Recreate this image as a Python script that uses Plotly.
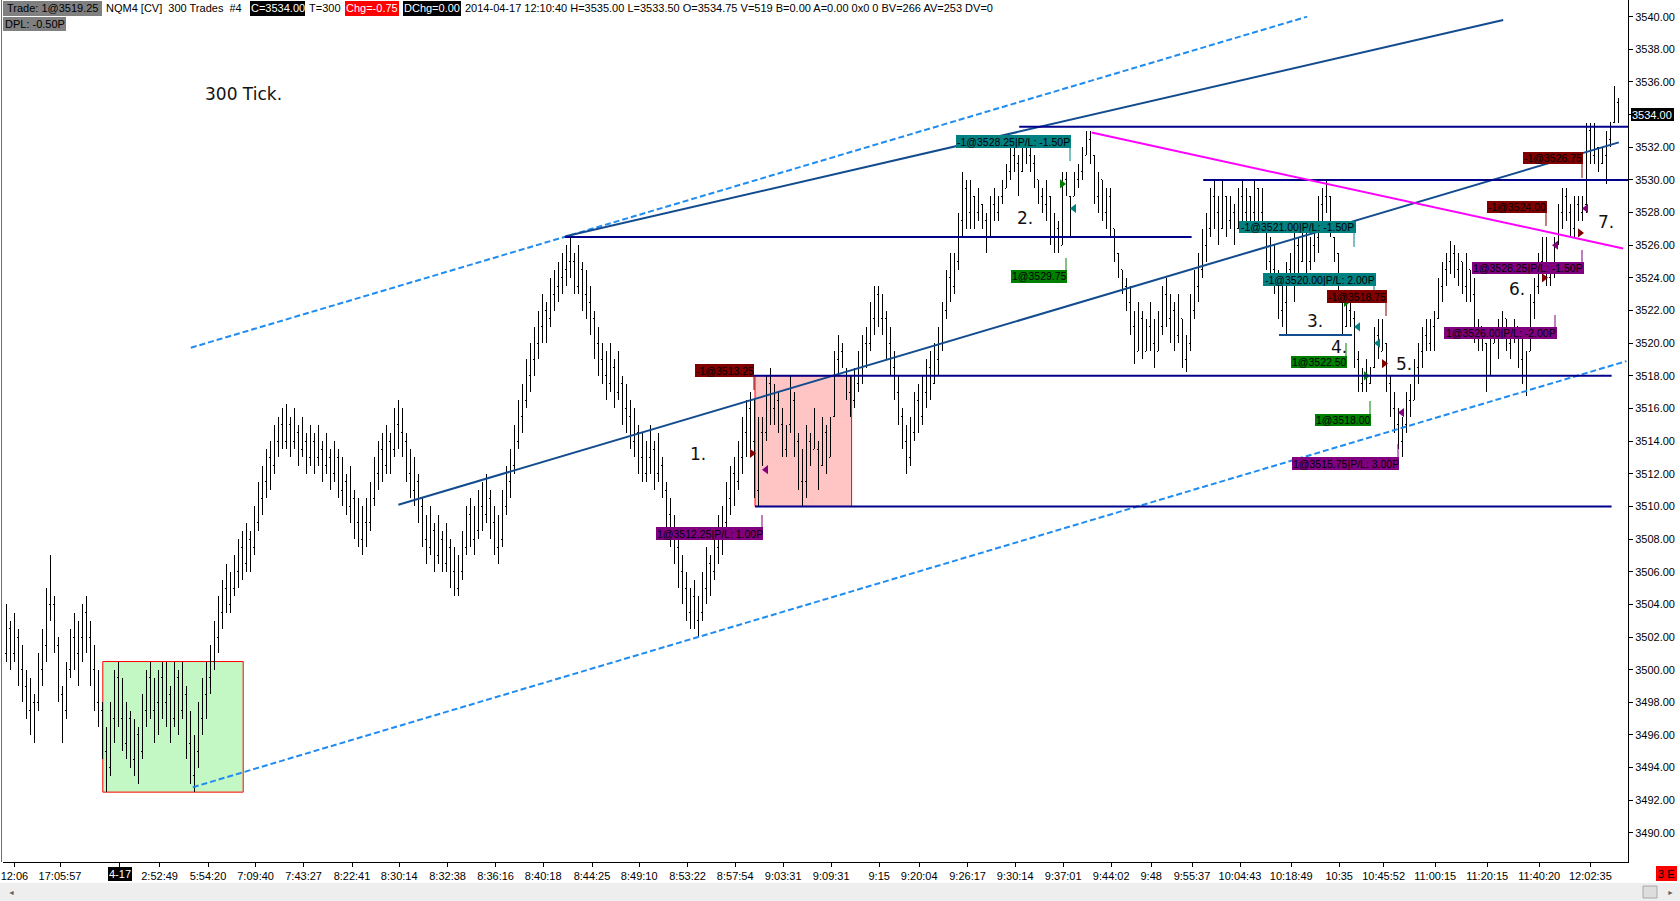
import plotly.graph_objects as go

# ---------------- DATA (300-tick OHLC bars, NQM4) ----------------
highs = [
3504.0, 3503.0, 3503.5, 3502.5, 3501.5, 3500.0, 3499.5, 3498.5, 3501.0, 3502.5,
3505.0, 3507.0, 3504.5, 3502.0, 3499.0, 3500.5, 3502.5, 3503.5, 3503.0, 3504.0,
3504.5, 3503.0, 3501.5, 3500.0, 3498.0, 3496.5, 3498.0, 3500.0, 3500.5, 3499.5,
3498.0, 3497.5, 3497.0, 3496.5, 3498.5, 3500.0, 3500.5, 3499.5, 3500.0, 3500.5,
3500.5, 3499.0, 3500.5, 3500.0, 3500.5, 3499.0, 3497.5, 3496.0, 3498.0, 3499.5,
3500.5, 3501.5, 3503.0, 3504.5, 3505.5, 3506.5, 3506.0, 3507.0, 3508.0, 3508.5,
3509.0, 3508.5, 3510.0, 3511.5, 3512.5, 3513.5, 3514.0, 3515.0, 3515.5, 3516.0,
3516.25, 3515.5, 3516.0, 3515.0, 3515.5, 3514.5, 3515.0, 3514.5, 3515.0, 3514.0,
3514.5, 3513.5, 3514.0, 3513.5, 3513.0, 3512.0, 3512.5, 3511.0, 3510.5, 3510.0,
3510.5, 3511.5, 3513.0, 3514.0, 3514.5, 3515.0, 3514.5, 3516.0, 3516.5, 3516.0,
3514.5, 3513.5, 3513.0, 3512.0, 3510.5, 3509.5, 3510.0, 3509.0, 3509.5, 3508.5,
3509.0, 3508.0, 3507.5, 3507.0, 3508.5, 3510.0, 3510.5, 3510.0, 3511.0, 3511.5,
3512.0, 3511.0, 3510.0, 3509.5, 3511.0, 3512.5, 3513.5, 3515.0, 3516.5, 3517.5,
3519.0, 3520.0, 3521.0, 3522.0, 3523.0, 3522.5, 3524.0, 3524.5, 3525.0, 3525.5,
3526.0, 3526.5, 3525.5, 3526.0, 3525.0, 3524.5, 3523.5, 3522.0, 3521.0, 3520.0,
3519.5, 3520.0, 3519.0, 3519.5, 3518.0, 3517.5, 3516.5, 3516.0, 3515.0, 3514.5,
3514.0, 3515.0, 3514.0, 3514.5, 3513.0, 3511.5, 3510.5, 3509.5, 3508.5, 3507.0,
3506.0, 3505.0, 3505.5, 3504.5, 3506.0, 3507.5, 3507.0, 3508.5, 3509.5, 3510.0,
3511.5, 3512.5, 3513.0, 3514.0, 3515.5, 3516.5, 3517.0, 3516.5, 3515.5, 3515.5,
3518.0, 3518.5, 3517.5, 3517.0, 3516.0, 3515.0, 3518.0, 3517.0, 3514.5, 3513.5,
3515.0, 3514.5, 3516.0, 3514.0, 3515.5, 3515.0, 3515.5, 3519.5, 3520.5, 3520.0,
3518.5, 3518.0, 3518.5, 3519.5, 3520.5, 3521.0, 3522.5, 3523.5, 3523.5, 3523.0,
3522.0, 3521.0, 3519.5, 3518.0, 3516.0, 3515.0, 3515.5, 3517.0, 3517.5, 3518.0,
3519.0, 3519.5, 3520.0, 3521.0, 3522.5, 3524.5, 3525.5, 3525.5, 3528.0, 3530.5,
3530.0, 3530.0, 3529.0, 3529.5, 3528.5, 3528.0, 3529.0, 3529.5, 3529.0, 3530.0,
3531.0, 3532.0, 3532.5, 3531.5, 3532.5, 3532.5, 3532.5, 3531.5, 3530.0, 3529.5,
3530.0, 3529.0, 3528.0, 3527.5, 3530.5, 3530.5, 3529.0, 3530.5, 3531.0, 3532.0,
3533.0, 3533.0, 3531.5, 3530.5, 3530.0, 3529.5, 3529.5, 3527.0, 3525.5, 3524.5,
3524.0, 3523.5, 3522.0, 3522.5, 3522.0, 3521.5, 3522.5, 3521.5, 3522.0, 3523.5,
3524.0, 3523.0, 3522.5, 3523.0, 3521.5, 3520.5, 3523.0, 3524.5, 3525.5, 3527.0,
3528.0, 3529.5, 3530.0, 3529.0, 3530.0, 3529.0, 3529.0, 3528.5, 3529.5, 3530.0,
3529.5, 3529.0, 3530.0, 3529.5, 3529.5, 3527.0, 3526.5, 3526.0, 3524.5, 3523.5,
3525.0, 3525.5, 3527.0, 3526.5, 3527.5, 3527.0, 3526.5, 3527.0, 3529.0, 3529.5,
3530.0, 3529.0, 3526.5, 3525.5, 3523.0, 3522.5, 3522.5, 3522.0, 3519.5, 3518.5,
3519.0, 3518.5, 3521.0, 3521.5, 3521.5, 3520.0, 3518.0, 3517.0, 3516.0, 3515.5,
3517.0, 3517.5, 3519.0, 3520.0, 3521.0, 3521.5, 3521.5, 3522.0, 3524.0, 3525.0,
3525.5, 3526.25, 3526.0, 3525.5, 3525.0, 3525.5, 3524.5, 3524.0, 3521.5, 3521.0,
3520.0, 3520.5, 3521.0, 3521.5, 3522.0, 3521.5, 3521.0, 3521.5, 3521.0, 3520.5,
3519.5, 3523.0, 3524.0, 3525.5, 3526.5, 3526.5, 3524.5, 3526.5, 3528.5, 3529.5,
3529.5, 3528.5, 3529.0, 3529.0, 3529.0, 3533.5, 3533.5, 3533.5, 3532.0, 3532.0,
3533.0, 3533.5, 3535.75, 3535.0]

lows = [
3500.5, 3500.0, 3500.5, 3499.0, 3498.0, 3497.0, 3496.0, 3495.5, 3497.5, 3499.0,
3500.5, 3503.0, 3501.0, 3498.0, 3495.5, 3497.0, 3499.5, 3500.0, 3499.0, 3500.5,
3501.0, 3499.0, 3497.5, 3496.5, 3494.5, 3492.5, 3493.5, 3495.5, 3496.5, 3495.0,
3494.5, 3494.0, 3493.5, 3493.0, 3494.5, 3496.5, 3497.0, 3495.5, 3496.0, 3497.0,
3496.5, 3495.5, 3496.5, 3496.0, 3497.0, 3494.5, 3493.0, 3492.5, 3494.0, 3496.0,
3497.0, 3498.5, 3500.0, 3501.0, 3502.5, 3503.5, 3503.5, 3504.5, 3505.0, 3505.5,
3506.0, 3506.0, 3507.0, 3508.5, 3509.5, 3510.5, 3511.0, 3512.0, 3513.0, 3513.5,
3513.5, 3513.0, 3513.5, 3512.5, 3513.0, 3512.0, 3512.5, 3512.0, 3512.5, 3511.5,
3512.0, 3511.0, 3511.5, 3510.5, 3510.0, 3509.5, 3509.0, 3508.0, 3507.5, 3507.0,
3507.5, 3508.5, 3510.0, 3511.0, 3511.5, 3512.0, 3512.0, 3513.0, 3513.5, 3513.0,
3511.5, 3510.5, 3510.0, 3509.0, 3507.5, 3506.5, 3507.0, 3506.0, 3506.5, 3506.0,
3506.0, 3505.0, 3504.5, 3504.5, 3505.5, 3507.0, 3507.5, 3507.0, 3508.0, 3508.5,
3509.0, 3508.0, 3507.0, 3506.5, 3507.5, 3509.5, 3510.5, 3512.0, 3513.5, 3514.5,
3516.0, 3517.0, 3518.0, 3519.0, 3520.0, 3520.0, 3521.0, 3522.0, 3522.5, 3523.0,
3523.5, 3524.0, 3523.0, 3523.0, 3522.0, 3521.5, 3520.5, 3519.0, 3518.0, 3517.5,
3516.5, 3517.0, 3516.0, 3516.5, 3515.0, 3514.5, 3513.5, 3513.0, 3512.0, 3511.5,
3511.5, 3512.0, 3511.0, 3511.5, 3510.5, 3508.5, 3507.5, 3506.5, 3505.0, 3504.0,
3503.0, 3502.5, 3502.5, 3502.0, 3503.0, 3504.0, 3504.5, 3505.5, 3506.5, 3507.0,
3508.5, 3509.5, 3510.0, 3511.0, 3512.0, 3513.0, 3513.5, 3510.5, 3510.0, 3512.5,
3514.0, 3515.0, 3515.0, 3514.5, 3513.0, 3513.0, 3514.5, 3513.0, 3511.0, 3510.0,
3510.5, 3512.5, 3513.5, 3511.0, 3512.5, 3512.0, 3513.0, 3515.5, 3518.0, 3518.5,
3516.5, 3515.5, 3516.0, 3517.0, 3517.5, 3518.5, 3519.5, 3520.5, 3521.0, 3520.5,
3519.0, 3518.0, 3516.5, 3515.0, 3513.5, 3512.0, 3512.5, 3514.0, 3514.5, 3515.0,
3516.0, 3516.5, 3517.5, 3518.0, 3519.5, 3521.5, 3522.5, 3523.0, 3524.5, 3526.5,
3527.0, 3527.0, 3527.0, 3527.5, 3527.0, 3525.5, 3526.5, 3527.5, 3527.5, 3528.5,
3529.5, 3530.0, 3530.5, 3529.0, 3530.5, 3531.0, 3530.5, 3529.5, 3528.5, 3528.0,
3527.5, 3526.0, 3525.5, 3525.5, 3526.0, 3529.0, 3526.5, 3529.0, 3529.5, 3530.0,
3531.5, 3531.0, 3528.5, 3528.0, 3527.5, 3527.0, 3526.5, 3525.0, 3524.0, 3523.0,
3522.0, 3520.5, 3518.75, 3519.5, 3519.0, 3519.5, 3519.5, 3518.5, 3519.5, 3520.5,
3521.0, 3520.0, 3519.5, 3520.0, 3518.5, 3518.25, 3519.5, 3521.5, 3522.5, 3524.0,
3525.0, 3526.5, 3527.0, 3526.0, 3527.0, 3526.5, 3527.0, 3526.0, 3527.0, 3527.5,
3527.5, 3527.0, 3527.5, 3527.0, 3527.5, 3524.5, 3524.0, 3523.0, 3521.5, 3521.0,
3520.5, 3523.5, 3522.5, 3524.0, 3525.0, 3524.0, 3524.5, 3525.0, 3525.5, 3527.5,
3528.0, 3526.5, 3525.0, 3522.5, 3520.5, 3521.0, 3521.0, 3518.5, 3517.0, 3517.0,
3517.0, 3517.5, 3518.5, 3519.0, 3519.5, 3517.0, 3515.5, 3514.5, 3513.5, 3513.0,
3514.5, 3515.5, 3516.5, 3517.5, 3518.5, 3519.5, 3519.5, 3519.5, 3521.5, 3522.5,
3523.5, 3524.25, 3524.0, 3523.5, 3523.0, 3522.5, 3522.5, 3520.0, 3519.5, 3519.5,
3517.0, 3518.0, 3520.0, 3519.0, 3520.5, 3519.5, 3519.0, 3520.0, 3518.5, 3517.5,
3516.75, 3519.5, 3521.5, 3523.0, 3524.0, 3523.5, 3523.5, 3524.0, 3526.0, 3527.0,
3527.5, 3526.5, 3526.5, 3527.5, 3527.5, 3528.0, 3531.0, 3531.0, 3530.5, 3531.0,
3529.75, 3532.0, 3533.5, 3533.5]

opens = [
3501.0, 3502.5, 3501.0, 3502.0, 3500.0, 3499.0, 3497.5, 3498.0, 3498.0, 3500.0,
3501.5, 3504.0, 3504.0, 3501.5, 3498.5, 3497.5, 3500.0, 3502.0, 3501.0, 3502.0,
3503.5, 3502.0, 3500.0, 3498.0, 3497.5, 3495.0, 3494.0, 3497.0, 3499.5, 3497.0,
3495.5, 3497.0, 3494.5, 3496.0, 3495.0, 3497.5, 3499.5, 3497.5, 3498.0, 3499.5,
3498.0, 3498.5, 3497.0, 3499.5, 3497.5, 3498.5, 3495.5, 3493.5, 3495.0, 3497.0,
3498.5, 3499.5, 3500.5, 3502.0, 3503.5, 3505.0, 3504.0, 3505.0, 3506.0, 3507.5,
3506.5, 3508.0, 3507.5, 3509.0, 3510.5, 3511.5, 3513.0, 3512.5, 3514.0, 3515.0,
3514.0, 3515.0, 3514.0, 3514.5, 3513.5, 3514.0, 3513.0, 3514.0, 3513.0, 3513.5,
3512.5, 3513.0, 3512.0, 3513.0, 3511.0, 3511.5, 3510.0, 3510.5, 3509.0, 3508.0,
3509.0, 3509.0, 3510.5, 3512.0, 3513.5, 3512.5, 3514.0, 3513.5, 3515.0, 3514.5,
3514.0, 3512.0, 3511.0, 3511.5, 3510.0, 3508.0, 3507.5, 3508.5, 3507.0, 3508.0,
3506.5, 3507.5, 3506.0, 3505.0, 3506.0, 3507.5, 3509.5, 3508.0, 3508.5, 3510.0,
3509.5, 3510.5, 3509.0, 3507.5, 3508.0, 3510.0, 3511.5, 3512.5, 3514.0, 3515.5,
3516.5, 3518.0, 3519.0, 3520.0, 3521.0, 3522.0, 3521.5, 3523.0, 3523.5, 3524.0,
3524.5, 3525.0, 3525.0, 3523.5, 3524.5, 3523.0, 3522.5, 3521.5, 3520.0, 3519.0,
3518.0, 3517.5, 3518.5, 3517.0, 3517.5, 3516.0, 3515.5, 3514.0, 3514.5, 3513.0,
3512.0, 3513.0, 3513.5, 3512.0, 3512.5, 3511.0, 3509.5, 3508.5, 3507.5, 3506.0,
3505.0, 3503.5, 3504.5, 3503.0, 3503.5, 3505.0, 3506.5, 3506.0, 3507.5, 3508.5,
3509.0, 3510.5, 3512.0, 3511.5, 3513.0, 3514.5, 3516.0, 3514.0, 3511.0, 3514.5,
3514.5, 3517.5, 3516.0, 3516.5, 3515.0, 3513.5, 3515.0, 3516.5, 3514.0, 3511.5,
3511.5, 3514.0, 3513.5, 3513.5, 3512.5, 3514.5, 3513.0, 3515.5, 3519.0, 3519.5,
3518.0, 3517.0, 3516.5, 3517.5, 3518.5, 3520.0, 3520.0, 3521.5, 3523.0, 3521.5,
3521.5, 3520.0, 3518.5, 3517.0, 3515.5, 3514.0, 3513.0, 3514.5, 3516.5, 3515.5,
3517.0, 3518.5, 3517.5, 3519.0, 3520.0, 3522.0, 3524.0, 3523.5, 3525.0, 3527.5,
3529.5, 3528.0, 3529.0, 3528.0, 3528.5, 3527.5, 3526.5, 3528.5, 3528.0, 3529.0,
3529.5, 3530.5, 3531.5, 3531.0, 3530.5, 3532.0, 3531.5, 3531.0, 3530.0, 3529.0,
3528.5, 3529.0, 3526.5, 3527.0, 3526.0, 3530.0, 3529.0, 3529.0, 3530.0, 3530.5,
3531.5, 3532.5, 3531.5, 3529.0, 3530.0, 3528.0, 3529.0, 3527.0, 3525.5, 3524.5,
3523.5, 3522.5, 3521.0, 3519.5, 3521.5, 3519.5, 3521.0, 3520.0, 3519.5, 3521.0,
3523.0, 3521.5, 3522.0, 3520.5, 3521.5, 3519.0, 3520.0, 3522.0, 3523.5, 3524.5,
3526.0, 3527.0, 3529.0, 3528.0, 3527.0, 3529.0, 3527.5, 3528.0, 3527.0, 3529.0,
3528.0, 3529.0, 3528.0, 3529.5, 3528.0, 3527.0, 3525.0, 3524.5, 3524.0, 3522.0,
3522.5, 3524.5, 3524.0, 3526.0, 3525.0, 3527.0, 3525.0, 3526.0, 3526.5, 3528.5,
3529.0, 3529.0, 3526.5, 3525.5, 3523.0, 3521.0, 3522.0, 3521.5, 3519.0, 3517.5,
3518.0, 3517.5, 3518.5, 3520.5, 3519.5, 3520.0, 3517.5, 3516.0, 3515.0, 3514.0,
3515.0, 3516.5, 3516.5, 3518.5, 3519.5, 3520.5, 3520.0, 3521.0, 3521.5, 3523.5,
3524.5, 3525.0, 3525.5, 3524.5, 3525.0, 3523.5, 3524.5, 3523.0, 3520.5, 3521.0,
3520.0, 3518.0, 3520.0, 3520.5, 3520.5, 3521.5, 3520.0, 3520.5, 3521.0, 3519.0,
3518.0, 3519.5, 3522.5, 3523.5, 3525.0, 3524.5, 3524.0, 3524.5, 3526.0, 3528.0,
3529.0, 3528.0, 3527.0, 3528.5, 3528.0, 3528.5, 3533.0, 3531.5, 3532.0, 3531.0,
3531.5, 3532.5, 3533.5, 3534.75]

closes = [
3503.0, 3501.0, 3502.5, 3499.5, 3498.5, 3497.5, 3498.5, 3496.0, 3500.5, 3502.0,
3504.5, 3505.0, 3501.5, 3498.5, 3496.5, 3500.0, 3502.0, 3501.0, 3502.5, 3503.5,
3502.0, 3499.5, 3498.0, 3499.0, 3495.0, 3493.5, 3497.5, 3499.5, 3497.0, 3495.5,
3497.0, 3494.5, 3496.0, 3493.5, 3498.0, 3499.5, 3497.5, 3498.5, 3499.5, 3498.0,
3500.0, 3496.0, 3499.5, 3497.0, 3500.0, 3495.0, 3494.0, 3495.5, 3497.5, 3499.0,
3500.0, 3501.0, 3502.5, 3504.0, 3505.0, 3504.0, 3505.5, 3506.5, 3507.5, 3506.0,
3508.5, 3507.0, 3509.5, 3511.0, 3512.0, 3513.0, 3512.0, 3514.5, 3515.0, 3514.0,
3515.5, 3513.5, 3515.5, 3513.0, 3515.0, 3512.5, 3514.5, 3512.5, 3514.0, 3512.0,
3514.0, 3511.5, 3513.5, 3511.0, 3512.0, 3510.0, 3511.5, 3508.5, 3508.0, 3509.5,
3508.0, 3511.0, 3512.5, 3513.5, 3512.5, 3514.5, 3513.0, 3515.5, 3514.5, 3513.5,
3512.0, 3511.0, 3512.5, 3509.5, 3508.0, 3507.0, 3509.5, 3506.5, 3509.0, 3506.5,
3508.5, 3505.5, 3505.0, 3506.5, 3508.0, 3509.5, 3508.0, 3509.5, 3510.5, 3509.0,
3511.5, 3508.5, 3507.5, 3509.0, 3510.5, 3512.0, 3513.0, 3514.5, 3516.0, 3517.0,
3518.5, 3519.5, 3520.5, 3521.5, 3522.5, 3521.0, 3523.5, 3524.0, 3524.5, 3525.0,
3525.5, 3524.5, 3523.5, 3525.5, 3522.5, 3522.0, 3521.0, 3519.5, 3518.5, 3518.0,
3517.0, 3519.5, 3516.5, 3518.5, 3515.5, 3515.0, 3514.0, 3515.0, 3512.5, 3512.0,
3513.5, 3514.5, 3511.5, 3514.0, 3511.0, 3509.0, 3508.0, 3507.0, 3505.5, 3504.5,
3503.5, 3504.5, 3503.0, 3504.0, 3505.5, 3507.0, 3505.5, 3508.0, 3509.0, 3508.0,
3511.0, 3512.0, 3511.0, 3513.5, 3515.0, 3516.0, 3514.0, 3511.0, 3515.0, 3513.0,
3517.5, 3516.0, 3517.0, 3515.0, 3513.5, 3514.5, 3517.5, 3513.5, 3511.5, 3512.5,
3514.5, 3513.0, 3515.5, 3511.5, 3515.0, 3512.5, 3515.0, 3519.0, 3519.5, 3519.0,
3517.0, 3516.5, 3518.0, 3519.0, 3520.0, 3519.5, 3522.0, 3523.0, 3521.5, 3522.0,
3519.5, 3518.5, 3517.0, 3515.5, 3514.0, 3512.5, 3515.0, 3516.5, 3515.0, 3517.5,
3518.5, 3517.0, 3519.5, 3520.5, 3522.0, 3524.0, 3523.0, 3525.0, 3527.5, 3530.0,
3527.5, 3529.5, 3527.5, 3529.0, 3527.5, 3526.0, 3528.5, 3528.0, 3528.5, 3529.5,
3530.5, 3531.5, 3531.0, 3529.5, 3532.0, 3531.5, 3531.0, 3530.0, 3529.0, 3528.5,
3529.0, 3526.5, 3527.0, 3526.0, 3530.0, 3529.5, 3527.0, 3530.0, 3530.5, 3531.5,
3532.5, 3531.5, 3529.0, 3530.0, 3528.0, 3529.0, 3527.0, 3525.5, 3524.5, 3523.5,
3522.5, 3521.0, 3519.5, 3522.0, 3519.5, 3521.0, 3520.0, 3519.0, 3521.5, 3523.0,
3521.5, 3522.5, 3520.0, 3522.0, 3519.0, 3520.0, 3522.5, 3524.0, 3525.0, 3526.5,
3527.5, 3529.0, 3528.0, 3526.5, 3529.5, 3527.0, 3528.5, 3526.5, 3529.0, 3528.0,
3529.0, 3527.5, 3529.5, 3528.0, 3528.5, 3525.0, 3524.5, 3523.5, 3522.0, 3522.5,
3524.5, 3524.0, 3526.5, 3525.0, 3527.0, 3524.5, 3526.0, 3526.5, 3528.5, 3529.0,
3529.5, 3527.0, 3525.5, 3523.0, 3521.0, 3522.0, 3521.5, 3519.0, 3517.5, 3518.0,
3517.5, 3518.5, 3520.5, 3519.5, 3521.0, 3517.5, 3516.0, 3515.0, 3514.0, 3515.0,
3516.5, 3516.0, 3518.5, 3519.5, 3520.5, 3520.0, 3521.0, 3521.5, 3523.5, 3524.5,
3525.0, 3525.5, 3524.5, 3525.0, 3523.5, 3524.5, 3523.0, 3520.5, 3521.0, 3520.0,
3518.0, 3520.0, 3520.5, 3519.5, 3521.5, 3520.0, 3520.5, 3521.0, 3519.0, 3518.0,
3519.0, 3522.5, 3523.5, 3525.0, 3524.5, 3524.0, 3524.5, 3526.0, 3528.0, 3529.0,
3528.0, 3527.0, 3528.5, 3528.0, 3528.5, 3533.0, 3531.5, 3533.0, 3531.0, 3531.5,
3532.5, 3533.5, 3535.0, 3534.0]

n_bars = min(len(highs), len(lows), len(opens), len(closes))
bar_index = list(range(n_bars))

# x-axis tick labels (bar index of each label)
x_tick_pos = [2.1, 13.5, 28.4, 38.4, 50.5, 62.4, 74.4, 86.5, 98.3, 110.4, 122.4,
              134.3, 146.5, 158.3, 170.4, 182.3, 194.3, 206.3, 218.3, 228.3,
              240.4, 252.3, 264.3, 276.3, 286.3, 296.5, 308.5, 321.3, 333.3,
              344.4, 357.3, 370.3, 383.3, 396.1]
x_tick_text = ["12:06", "17:05:57", "", "2:52:49", "5:54:20", "7:09:40", "7:43:27",
               "8:22:41", "8:30:14", "8:32:38", "8:36:16", "8:40:18", "8:44:25",
               "8:49:10", "8:53:22", "8:57:54", "9:03:31", "9:09:31", "9:15",
               "9:20:04", "9:26:17", "9:30:14", "9:37:01", "9:44:02", "9:48",
               "9:55:37", "10:04:43", "10:18:49", "10:35", "10:45:52", "11:00:15",
               "11:20:15", "11:40:20", "12:02:35"]
date_tick_pos = 28.4
date_tick_text = "4-17"

y_tick_vals = [3490, 3492, 3494, 3496, 3498, 3500, 3502, 3504, 3506, 3508, 3510,
               3512, 3514, 3516, 3518, 3520, 3522, 3524, 3526, 3528, 3530, 3532,
               3534, 3536, 3538, 3540]
last_price = 3534.00

# drawn tools (bar index, price)
dashed_channel = [((46.2, 3519.72), (325.3, 3540.0)),
                  ((46.7, 3492.8), (405.1, 3518.9))]
solid_trend = [((139.9, 3526.55), (374.3, 3539.8)),
               ((98.1, 3510.1), (403.2, 3532.3))]
magenta_trend = ((271.4, 3532.9), (404.3, 3525.8))
h_levels = [(139.7, 296.4, 3526.5), (253.3, 405.5, 3533.25), (299.3, 405.5, 3530.0),
            (186.4, 401.4, 3518.0), (187.25, 401.4, 3510.0)]
short_level = (318.25, 336.5, 3520.5)
green_zone = (24.2, 59.3, 3492.5, 3500.5)
red_zone = (187.25, 211.4, 3510.0, 3518.0)

# executions markers
exec_x = [264, 267, 335, 338, 343, 344.5, 340, 186.5, 190, 395, 393.5, 387.5, 384.5, 349]
exec_y = [3529.75, 3528.25, 3522.5, 3521.0, 3520.0, 3518.75, 3518.0, 3513.25,
          3512.25, 3528.25, 3526.75, 3526.0, 3524.0, 3515.75]
exec_kind = ["buy", "sellx", "buy", "sellx", "sellx", "sell", "buy", "sell",
             "buyx", "buyx", "sell", "buyx", "sell", "buyx"]

trade_texts = ["-1@3528.25|P/L: -1.50P", "1@3529.75", "-1@3521.00|P/L: -1.50P",
               "-1@3520.00|P/L: 2.00P", "-1@3518.75", "1@3522.50", "1@3518.00",
               "1@3515.75|P/L: 3.00P", "-1@3513.25", "1@3512.25|P/L: 1.00P",
               "-1@3526.75", "-1@3524.00", "1@3528.25|P/L: -1.50P",
               "1@3526.00|P/L: -2.00P"]
trade_kind = ["sellx", "buy", "sellx", "sellx", "sell", "buy", "buy", "buyx",
              "sell", "buyx", "sell", "sell", "buyx", "buyx"]

note_texts = ["1.", "2.", "3.", "4.", "5.", "6.", "7."]
title_text = "300 Tick."

header_texts = ["Trade: 1@3519.25", "NQM4 [CV]  300 Trades  #4", "C=3534.00", "T=300",
                "Chg=-0.75", "DChg=0.00",
                "2014-04-17 12:10:40 H=3535.00 L=3533.50 O=3534.75 V=519 B=0.00 A=0.00 0x0 0 BV=266 AV=253 DV=0",
                "DPL: -0.50P"]

# ---------------- STYLE / LAYOUT ----------------
W, H = 1680, 901
ML, MR, MT, MB = 3, 52, 0, 39
PW = W - ML - MR
PH = H - MT - MB
UI = "Liberation Sans, Arial, sans-serif"
kind_color = {"buy": "#008000", "sell": "#800000", "buyx": "#800080", "sellx": "#008080"}
kind_symbol = {"buy": "triangle-right", "sell": "triangle-right",
               "buyx": "triangle-left", "sellx": "triangle-left"}


def pxx(x):
    return (x - ML) / PW


def pxy(y):
    return 1 - (y - MT) / PH


fig = go.Figure()
fig.add_trace(go.Ohlc(
    x=bar_index, open=opens[:n_bars], high=highs[:n_bars], low=lows[:n_bars],
    close=closes[:n_bars],
    increasing=dict(line=dict(color="black", width=1)),
    decreasing=dict(line=dict(color="black", width=1)),
    tickwidth=0.35, hoverinfo="none", showlegend=False))

fig.add_trace(go.Scatter(
    x=exec_x, y=exec_y, mode="markers", hoverinfo="skip", showlegend=False,
    marker=dict(symbol=[kind_symbol[k] for k in exec_kind],
                color=[kind_color[k] for k in exec_kind], size=8, line=dict(width=0))))

shapes = []
gx0, gx1, gy0, gy1 = green_zone
shapes.append(dict(type="rect", xref="x", yref="y", x0=gx0, x1=gx1, y0=gy0, y1=gy1,
                   fillcolor="#C3F7C3", line=dict(color="#FF0000", width=1), layer="below"))
rx0, rx1, ry0, ry1 = red_zone
shapes.append(dict(type="rect", xref="x", yref="y", x0=rx0, x1=rx1, y0=ry0, y1=ry1,
                   fillcolor="#FFC4C4", line=dict(color="#FF0000", width=1), layer="below"))
for (a, b) in dashed_channel:
    shapes.append(dict(type="line", xref="x", yref="y", x0=a[0], y0=a[1], x1=b[0], y1=b[1],
                       line=dict(color="#1E8CF0", width=2, dash="6px,3px"), layer="above"))
for (a, b) in solid_trend:
    shapes.append(dict(type="line", xref="x", yref="y", x0=a[0], y0=a[1], x1=b[0], y1=b[1],
                       line=dict(color="#134C8E", width=2), layer="above"))
for (xa, xb, yv) in h_levels:
    shapes.append(dict(type="line", xref="x", yref="y", x0=xa, x1=xb, y0=yv, y1=yv,
                       line=dict(color="#00008B", width=2), layer="above"))
shapes.append(dict(type="line", xref="x", yref="y", x0=short_level[0], x1=short_level[1],
                   y0=short_level[2], y1=short_level[2],
                   line=dict(color="#134C8E", width=2), layer="above"))
a, b = magenta_trend
shapes.append(dict(type="line", xref="x", yref="y", x0=a[0], y0=a[1], x1=b[0], y1=b[1],
                   line=dict(color="#FF00FF", width=2), layer="above"))

annotations = []

trade_boxes = [(956, 1071, 135, 148, 1070, 148, 161), (1011, 1067, 270, 283, 1066, 258, 270),
               (1239, 1356, 221, 233, 1354, 233, 247), (1263, 1376, 273, 286, 1374, 286, 300),
               (1327, 1387, 290, 303, 1386, 303, 316), (1291, 1347, 356, 368, 1346, 343, 356),
               (1315, 1371, 414, 426, 1370, 401, 414), (1292, 1399, 457, 470, 1398, 444, 457),
               (695, 754, 364, 377, 754, 377, 390), (656, 763, 527, 540, 762, 515, 527),
               (1523, 1583, 152, 164, 1582, 164, 178), (1487, 1547, 201, 213, 1546, 213, 226),
               (1472, 1584, 262, 274, 1582, 250, 262), (1444, 1557, 327, 339, 1555, 315, 327)]
for txt, kind, bx in zip(trade_texts, trade_kind, trade_boxes):
    x0, x1, y0, y1, lx, ly0, ly1 = bx
    col = kind_color[kind]
    shapes.append(dict(type="rect", xref="paper", yref="paper", x0=pxx(x0), x1=pxx(x1),
                       y0=pxy(y1), y1=pxy(y0), fillcolor=col, line=dict(width=0), layer="above"))
    shapes.append(dict(type="line", xref="paper", yref="paper", x0=pxx(lx), x1=pxx(lx),
                       y0=pxy(ly1), y1=pxy(ly0), line=dict(color=col, width=1), layer="above"))
    annotations.append(dict(xref="paper", yref="paper", x=pxx((x0 + x1) / 2), y=pxy((y0 + y1) / 2),
                            text=txt, showarrow=False, xanchor="center", yanchor="middle",
                            borderpad=0, borderwidth=0,
                            font=dict(family=UI, size=10.5, color="black")))

note_pos = [(690, 454), (1017, 218), (1307, 321), (1331, 347), (1396, 364), (1509, 289), (1598, 222)]
for txt, (nx, ny) in zip(note_texts, note_pos):
    annotations.append(dict(xref="paper", yref="paper", x=pxx(nx), y=pxy(ny), text=txt,
                            showarrow=False, xanchor="left", yanchor="middle",
                            borderpad=0, borderwidth=0,
                            font=dict(family="DejaVu Sans, Verdana, sans-serif", size=17, color="#111111")))
annotations.append(dict(xref="paper", yref="paper", x=pxx(205), y=pxy(94), text=title_text,
                        showarrow=False, xanchor="left", yanchor="middle", borderpad=0, borderwidth=0,
                        font=dict(family="DejaVu Sans, Verdana, sans-serif", size=17, color="#111111")))

header_style = [("#808080", "black", 3, 102, 1, 16, 8), (None, "black", None, None, 1, 16, 106),
                ("black", "white", 250, 305, 1, 16, 251), (None, "black", None, None, 1, 16, 309),
                ("#FF0000", "white", 345, 399, 1, 16, 346), ("black", "white", 403, 461, 1, 16, 404),
                (None, "black", None, None, 1, 16, 465), ("#808080", "black", 3, 66, 17, 31, 6)]
for txt, (bg, fg, bx0, bx1, by0, by1, tx) in zip(header_texts, header_style):
    if bg is not None:
        shapes.append(dict(type="rect", xref="paper", yref="paper", x0=pxx(bx0), x1=pxx(bx1),
                           y0=pxy(by1), y1=pxy(by0), fillcolor=bg, line=dict(width=0), layer="above"))
        annotations.append(dict(xref="paper", yref="paper", x=pxx((bx0 + bx1) / 2),
                                y=pxy((by0 + by1) / 2), text=txt, showarrow=False,
                                xanchor="center", yanchor="middle", borderpad=0, borderwidth=0,
                                font=dict(family=UI, size=11, color=fg)))
    else:
        annotations.append(dict(xref="paper", yref="paper", x=pxx(tx), y=pxy((by0 + by1) / 2),
                                text=txt, showarrow=False, xanchor="left", yanchor="middle",
                                borderpad=0, borderwidth=0,
                                font=dict(family=UI, size=11, color=fg)))

lp_y = pxy((3541.02 - last_price) / (3541.02 - 3488.22) * PH)
shapes.append(dict(type="rect", xref="paper", yref="paper", x0=pxx(1631), x1=pxx(1674),
                   y0=lp_y - 6.5 / PH, y1=lp_y + 6.5 / PH, fillcolor="black",
                   line=dict(width=0), layer="above"))
annotations.append(dict(xref="paper", yref="paper", x=pxx(1652.5), y=lp_y,
                        text=f"{last_price:.2f}", showarrow=False, xanchor="center",
                        yanchor="middle", borderpad=0, borderwidth=0,
                        font=dict(family=UI, size=11, color="white")))

annotations.append(dict(xref="x", yref="paper", x=date_tick_pos, y=pxy(874),
                        text=date_tick_text, showarrow=False, xanchor="center", yanchor="middle",
                        bgcolor="black", borderpad=1, borderwidth=0,
                        font=dict(family=UI, size=11, color="white")))

shapes.append(dict(type="rect", xref="paper", yref="paper", x0=pxx(1656), x1=pxx(1677),
                   y0=pxy(881), y1=pxy(866), fillcolor="#FF0000", line=dict(width=0)))
annotations.append(dict(xref="paper", yref="paper", x=pxx(1666.5), y=pxy(873.5), text="3 E",
                        showarrow=False, xanchor="center", yanchor="middle", borderpad=0,
                        borderwidth=0, font=dict(family=UI, size=11, color="black")))

shapes.append(dict(type="rect", xref="paper", yref="paper", x0=pxx(0), x1=pxx(1680),
                   y0=pxy(901), y1=pxy(883), fillcolor="#EEEEEE", line=dict(width=0)))
shapes.append(dict(type="rect", xref="paper", yref="paper", x0=pxx(1643), x1=pxx(1657),
                   y0=pxy(898), y1=pxy(886), fillcolor="#DDDDDD",
                   line=dict(color="#A8A8A8", width=1)))
annotations.append(dict(xref="paper", yref="paper", x=pxx(11), y=pxy(893), text="◄",
                        showarrow=False, xanchor="center", yanchor="middle", borderpad=0,
                        borderwidth=0, font=dict(size=7, color="#606060")))
annotations.append(dict(xref="paper", yref="paper", x=pxx(1670), y=pxy(893), text="►",
                        showarrow=False, xanchor="center", yanchor="middle", borderpad=0,
                        borderwidth=0, font=dict(size=7, color="#606060")))
shapes.append(dict(type="line", xref="paper", yref="paper", x0=pxx(1.5), x1=pxx(1.5),
                   y0=pxy(862), y1=pxy(0), line=dict(color="#707070", width=1)))

fig.update_layout(
    width=W, height=H, margin=dict(l=ML, r=MR, t=MT, b=MB, pad=0),
    paper_bgcolor="white", plot_bgcolor="white", showlegend=False,
    shapes=shapes, annotations=annotations,
    xaxis=dict(range=[-0.75, 405.5], tickvals=x_tick_pos, ticktext=x_tick_text,
               tickangle=0, ticks="outside", ticklen=4, tickcolor="black", showline=True,
               linecolor="black", linewidth=1, showgrid=False, zeroline=False,
               tickfont=dict(family=UI, size=11, color="black"),
               rangeslider=dict(visible=False), fixedrange=True),
    yaxis=dict(range=[3488.22, 3541.02], side="right", tickvals=y_tick_vals,
               ticktext=[f"{v:.2f}" if v != last_price else "" for v in y_tick_vals],
               ticks="outside", ticklen=4, tickcolor="black", showline=True,
               linecolor="black", linewidth=1, showgrid=False, zeroline=False,
               tickfont=dict(family=UI, size=11, color="black"), fixedrange=True),
)

fig.write_html(
    "out.html",
    config={"displayModeBar": False},
    post_script=("document.body.style.margin='0';document.body.style.overflow='hidden';"
                 "var s=document.createElement('style');"
                 "s.innerHTML='.trace.ohlc path{shape-rendering:crispEdges}';"
                 "document.head.appendChild(s);"))
